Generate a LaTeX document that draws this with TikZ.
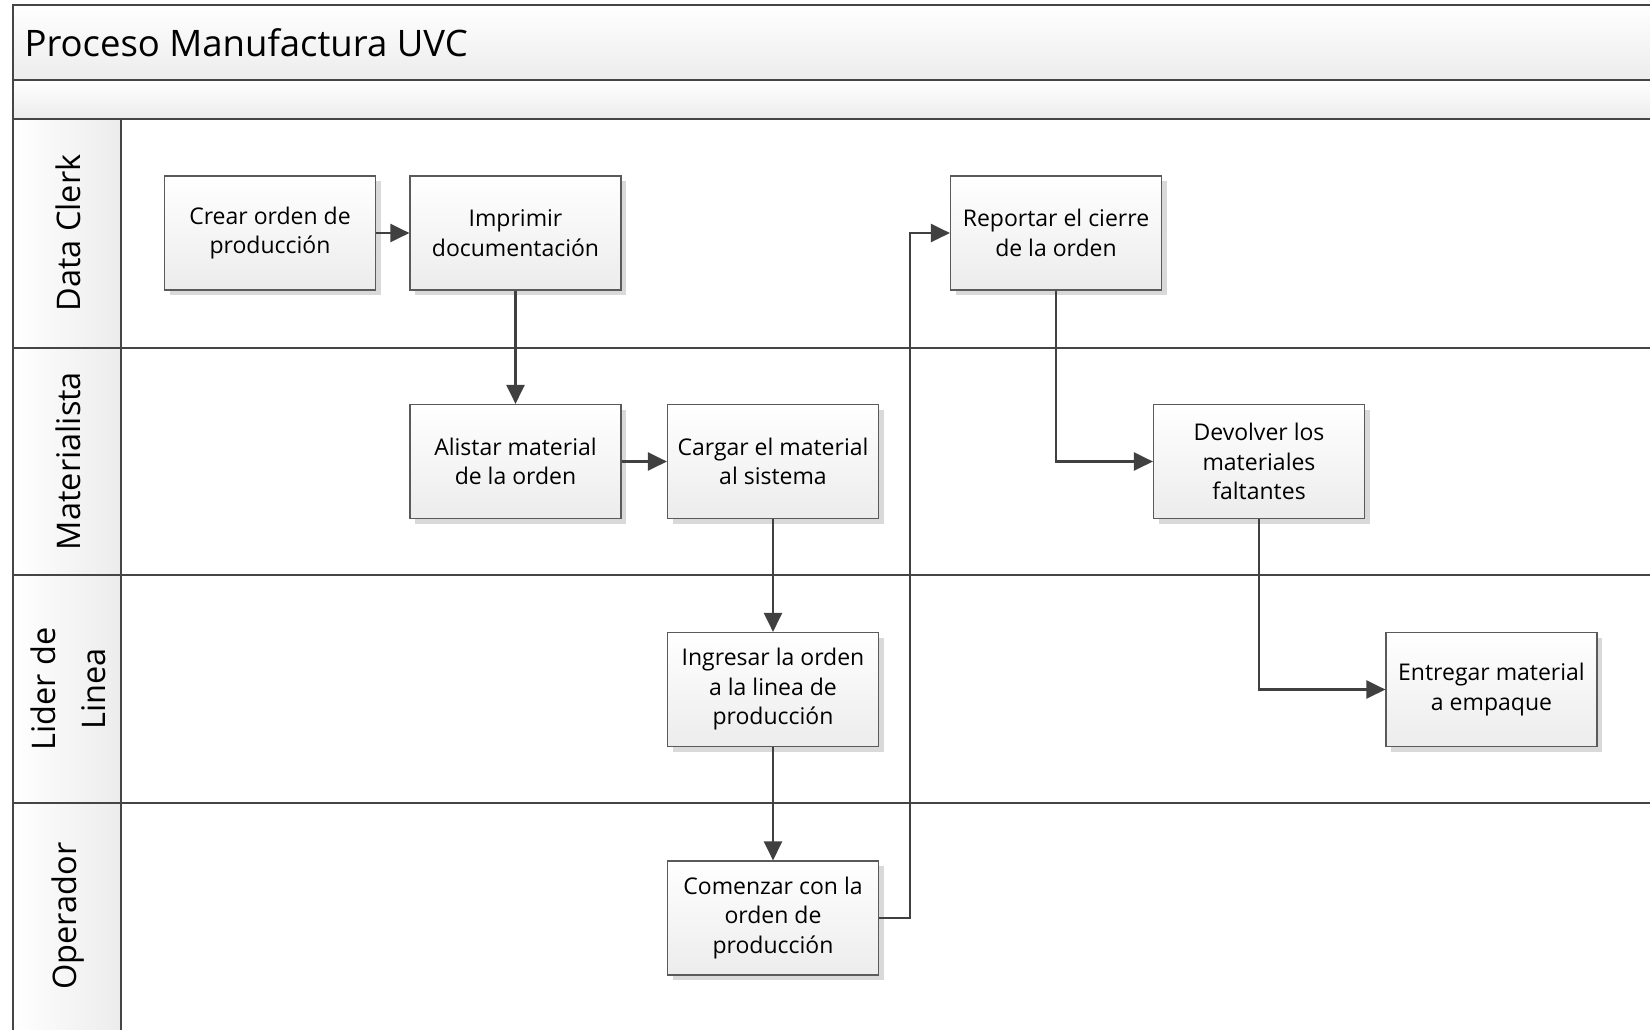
\documentclass[tikz,border=0pt]{standalone}
\usepackage{fontspec}
\setmainfont{Open Sans}
\usetikzlibrary{arrows.meta,shadows}
\definecolor{frameline}{HTML}{454545}
\definecolor{boxline}{HTML}{5A5A5A}
\definecolor{arrowcol}{HTML}{404040}
\definecolor{bandlow}{HTML}{ECECEC}
\begin{document}
\begin{tikzpicture}[x=1pt,y=-1pt,
  frame/.style={draw=frameline,line width=2pt},
  band/.style={frame,top color=white,bottom color=bandlow},
  lanehead/.style={frame,left color=white,right color=bandlow},
  lanelabel/.style={rotate=90,align=center,font=\fontsize{32.5}{50}\selectfont},
  task/.style={draw=boxline,line width=1.2pt,top color=white,bottom color=bandlow,
    minimum width=211pt,minimum height=114pt,inner sep=2pt,align=center,
    font=\fontsize{23}{29.5}\selectfont,
    drop shadow={shadow xshift=5pt,shadow yshift=-5pt,fill=black!15,opacity=1}},
  flow/.style={draw=arrowcol,line width=2.6pt,-{Triangle[length=19pt,width=18pt]}}
]
\useasboundingbox (0,0) rectangle (1650,1029);
% pool frame and bands
\path[band] (13,5) rectangle (1660,80);
\path[band] (13,80) rectangle (1660,119);
\path[lanehead] (13,119) rectangle (121,1040);
\draw[frame] (121,347.5) -- (1660,347.5);
\draw[frame] (13,347.5) -- (121,347.5);
\draw[frame] (13,575) -- (1660,575);
\draw[frame] (13,803) -- (1660,803);
\node[anchor=west,font=\fontsize{36.5}{40}\selectfont] (title) at (21,43) {Proceso Manufactura UVC};
% lane labels
\node[lanelabel] (l1) at (68,233) {Data Clerk};
\node[lanelabel] (l2) at (68,461) {Materialista};
\node[lanelabel] (l3) at (68,689) {Lider de\\Linea};
\node[lanelabel] (l4) at (68,916) {Operador};
% tasks
\node[task] (crear) at (270,233) {Crear orden de\\producción};
\node[task] (imprimir) at (515.5,233) {Imprimir\\documentación};
\node[task] (reportar) at (1056,233) {Reportar el cierre\\de la orden};
\node[task] (alistar) at (515.5,461.5) {Alistar material\\de la orden};
\node[task] (cargar) at (773,461.5) {Cargar el material\\al sistema};
\node[task] (devolver) at (1259,461.5) {Devolver los\\materiales\\faltantes};
\node[task] (ingresar) at (773,689.5) {Ingresar la orden\\a la linea de\\producción};
\node[task] (entregar) at (1491.5,689.5) {Entregar material\\a empaque};
\node[task] (comenzar) at (773,918) {Comenzar con la\\orden de\\producción};
% connectors
\draw[flow] (crear) -- (imprimir);
\draw[flow] (imprimir) -- (alistar);
\draw[flow] (alistar) -- (cargar);
\draw[flow] (cargar) -- (ingresar);
\draw[flow] (ingresar) -- (comenzar);
\draw[flow] (comenzar.east) -- ++(31,0) |- (reportar.west);
\draw[flow] (reportar.south) |- (devolver.west);
\draw[flow] (devolver.south) |- (entregar.west);
\end{tikzpicture}
\end{document}
